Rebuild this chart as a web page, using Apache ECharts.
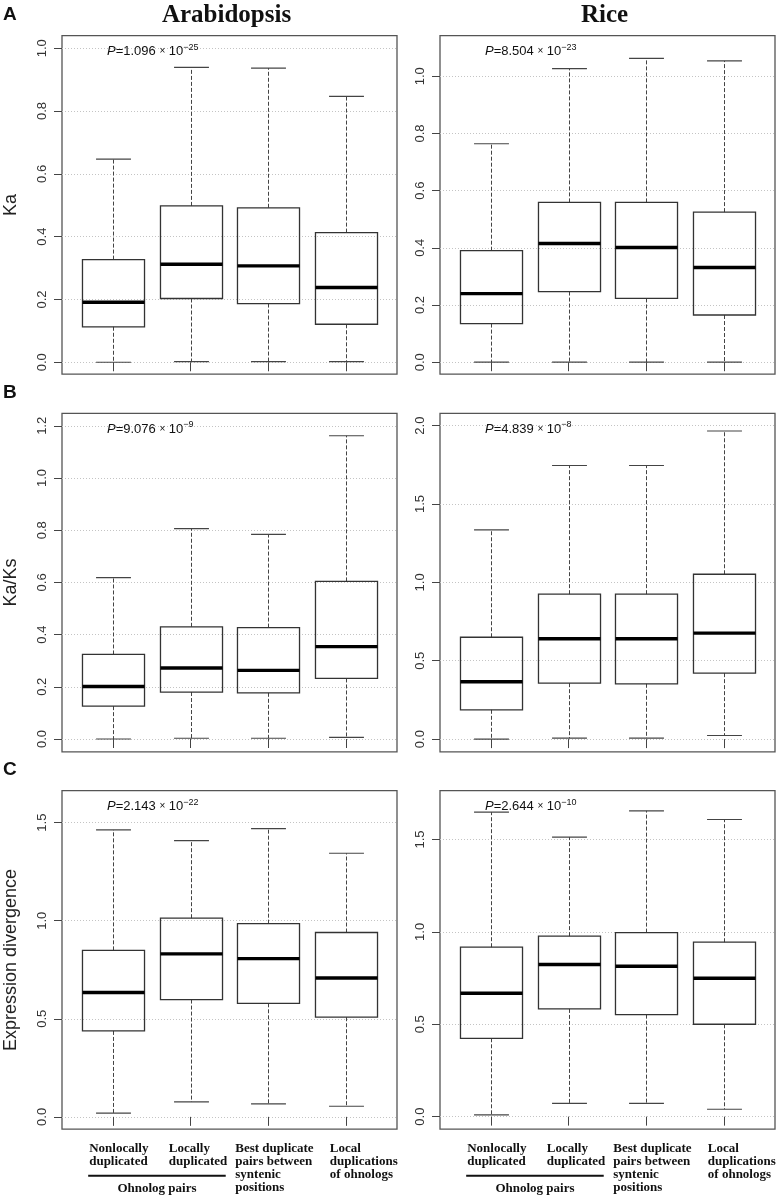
<!DOCTYPE html>
<html><head><meta charset="utf-8">
<script src="https://cdn.jsdelivr.net/npm/echarts@6/dist/echarts.min.js"></script>
<style>html,body{margin:0;padding:0;background:#fff}#chart{width:779px;height:1199px}</style>
</head><body><div id="chart"></div>
<script>
// ---------------- data ----------------
const categories = ['Nonlocally\nduplicated', 'Locally\nduplicated', 'Best duplicate\npairs between\nsyntenic\npositions', 'Local\nduplications\nof ohnologs'];
const groupLabel = 'Ohnolog pairs';
const speciesTitles = ['Arabidopsis', 'Rice'];
const panelLetters = ['A', 'B', 'C'];
const metricNames = ['Ka', 'Ka/Ks', 'Expression divergence'];
// each box: [lower whisker, Q1, median, Q3, upper whisker]
const kaArabidopsis   = [[0.000,0.113,0.191,0.327,0.647],[0.002,0.203,0.312,0.498,0.939],[0.002,0.187,0.307,0.492,0.937],[0.002,0.121,0.238,0.413,0.847]];
const kaRice          = [[0.000,0.135,0.240,0.390,0.764],[0.000,0.247,0.415,0.559,1.027],[0.000,0.223,0.401,0.559,1.063],[0.000,0.165,0.331,0.525,1.054]];
const kaksArabidopsis = [[0.000,0.126,0.201,0.324,0.618],[0.003,0.180,0.272,0.430,0.806],[0.003,0.177,0.263,0.427,0.784],[0.006,0.232,0.354,0.604,1.162]];
const kaksRice        = [[0.000,0.187,0.366,0.650,1.335],[0.006,0.357,0.640,0.925,1.746],[0.006,0.353,0.640,0.925,1.746],[0.023,0.421,0.676,1.052,1.966]];
const exprArabidopsis = [[0.019,0.438,0.634,0.849,1.463],[0.076,0.598,0.831,1.013,1.408],[0.066,0.579,0.807,0.985,1.470],[0.054,0.508,0.708,0.940,1.344]];
const exprRice        = [[0.009,0.424,0.668,0.917,1.648],[0.072,0.583,0.823,0.977,1.513],[0.072,0.552,0.814,0.996,1.655],[0.040,0.500,0.749,0.944,1.608]];
const pMantissa = ['1.096', '8.504', '9.076', '4.839', '2.143', '2.644'];
const pExponent = ['\u221225', '\u221223', '\u22129', '\u22128', '\u221222', '\u221210'];
const yTicksA = [0, 0.2, 0.4, 0.6, 0.8, 1.0];
const yTicksBL = [0, 0.2, 0.4, 0.6, 0.8, 1.0, 1.2];
const yTicksBR = [0, 0.5, 1.0, 1.5, 2.0];
const yTicksC = [0, 0.5, 1.0, 1.5];
const xTicks = [1, 2, 3, 4];

// ---------------- layout ----------------
const panelData = [kaArabidopsis, kaRice, kaksArabidopsis, kaksRice, exprArabidopsis, exprRice];
const panelTicks = [yTicksA, yTicksA, yTicksBL, yTicksBR, yTicksC, yTicksC];
const panelRange = [[-0.038, 1.040], [-0.042, 1.142], [-0.049, 1.248], [-0.081, 2.079], [-0.063, 1.663], [-0.068, 1.764]];
const colLeft = [62, 440], gridW = 335;
const rowTop = [35.7, 413.3, 790.7], gridH = 338.5;
const SANS = '"Liberation Sans", Arial, sans-serif';
const SERIF = '"Liberation Serif", "Times New Roman", serif';

const chart = echarts.init(document.getElementById('chart'), null, { renderer: 'canvas' });

const grids = [], xAxes = [], yAxes = [], series = [];
for (let i = 0; i < 6; i++) {
  const r = Math.floor(i / 2), c = i % 2;
  grids.push({ left: colLeft[c], top: rowTop[r], width: gridW, height: gridH, show: true,
    borderColor: '#555', borderWidth: 1.3, backgroundColor: 'transparent' });
  xAxes.push({ type: 'value', gridIndex: i, min: 0.34, max: 4.66,
    axisLine: { show: false }, splitLine: { show: false },
    axisTick: { show: true, inside: false, length: 9, customValues: xTicks, lineStyle: { color: '#444', width: 1 } },
    axisLabel: { show: false } });
  yAxes.push({ type: 'value', gridIndex: i, min: panelRange[i][0], max: panelRange[i][1],
    name: c === 0 ? metricNames[r] : '', nameLocation: 'middle', nameRotate: 90, nameGap: 42,
    nameTextStyle: { fontFamily: SANS, fontSize: 18, color: '#222' },
    axisLine: { show: false },
    axisTick: { show: true, inside: false, length: 8, customValues: panelTicks[i], lineStyle: { color: '#444', width: 1 } },
    axisLabel: { show: true, customValues: panelTicks[i], rotate: 90, margin: 13, fontFamily: SANS, fontSize: 13, color: '#333',
      formatter: v => Number(v).toFixed(1) },
    splitLine: { show: true, lineStyle: { color: '#c4c4c4', type: [1, 2], width: 1 } } });
  series.push({
    type: 'custom', xAxisIndex: i, yAxisIndex: i, clip: false,
    data: panelData[i].map((d, j) => [j + 1].concat(d)),
    encode: { x: 0, y: [1, 2, 3, 4, 5] },
    renderItem: function (params, api) {
      const x = api.value(0);
      const pLo = api.coord([x, api.value(1)]);
      const pQ1 = api.coord([x, api.value(2)]);
      const pMd = api.coord([x, api.value(3)]);
      const pQ3 = api.coord([x, api.value(4)]);
      const pHi = api.coord([x, api.value(5)]);
      const half = api.size([0.8, 0])[0] / 2;
      const cap = api.size([0.45, 0])[0] / 2;
      const cx = Math.round(pMd[0]) + 0.5;
      const dash = { stroke: '#444', lineWidth: 1, lineDash: [4, 2] };
      const solid = { stroke: '#444', lineWidth: 1.2 };
      return { type: 'group', children: [
        { type: 'line', shape: { x1: cx, y1: pQ3[1], x2: cx, y2: pHi[1] }, style: dash },
        { type: 'line', shape: { x1: cx, y1: pQ1[1], x2: cx, y2: pLo[1] }, style: dash },
        { type: 'line', shape: { x1: cx - cap, y1: pHi[1], x2: cx + cap, y2: pHi[1] }, style: solid },
        { type: 'line', shape: { x1: cx - cap, y1: pLo[1], x2: cx + cap, y2: pLo[1] }, style: solid },
        { type: 'rect', shape: { x: cx - half, y: pQ3[1], width: 2 * half, height: pQ1[1] - pQ3[1] },
          style: { fill: 'none', stroke: '#333', lineWidth: 1.3 } },
        { type: 'line', shape: { x1: cx - half, y1: pMd[1], x2: cx + half, y2: pMd[1] },
          style: { stroke: '#000', lineWidth: 3.4 } }
      ] };
    }
  });
}

chart.setOption({ animation: false, backgroundColor: '#fff', grid: grids, xAxis: xAxes, yAxis: yAxes, series: series });

// ---------------- annotations ----------------
const graphics = [];
function txt(text, x, y, font, align, valign, extra) {
  return { type: 'text', silent: true, style: Object.assign({ text: text, x: x, y: y, font: font,
    align: align, textAlign: align, verticalAlign: valign, textVerticalAlign: valign, fill: '#111' }, extra || {}) };
}
for (let c = 0; c < 2; c++) {
  graphics.push(txt(speciesTitles[c], colLeft[c] + gridW / 2 - 3, 16, 'bold 25px ' + SERIF, 'center', 'middle'));
}
for (let r = 0; r < 3; r++) {
  graphics.push(txt(panelLetters[r], 3, rowTop[r] - 21, 'bold 19px ' + SANS, 'left', 'middle'));
}
for (let i = 0; i < 6; i++) {
  const r = Math.floor(i / 2), c = i % 2;
  graphics.push({ type: 'text', silent: true, style: {
    text: '{i|P}=' + pMantissa[i] + ' {m|\u00d7} 10{s|' + pExponent[i] + '}',
    x: colLeft[c] + 45, y: rowTop[r] + 16, align: 'left', textAlign: 'left', verticalAlign: 'middle', textVerticalAlign: 'middle',
    font: '13px ' + SANS, fill: '#111',
    rich: {
      i: { fontStyle: 'italic', fontSize: 13, fontFamily: SANS, fill: '#111', lineHeight: 18 },
      m: { fontSize: 10, fontFamily: SANS, fill: '#111', lineHeight: 18 },
      s: { fontSize: 9, fontFamily: SANS, fill: '#111', verticalAlign: 'top', lineHeight: 8 }
    } } });
}
const labelOffsets = [-24, -22, -33, -16];
const bottom = rowTop[2] + gridH;
for (let c = 0; c < 2; c++) {
  const xi = 4 + c;
  const px = xTicks.map(v => chart.convertToPixel({ xAxisIndex: xi }, v));
  categories.forEach((cat, j) => {
    graphics.push(txt(cat, px[j] + labelOffsets[j], bottom + 13, 'bold 13px ' + SERIF, 'left', 'top', { lineHeight: 13 }));
  });
  const x1 = px[0] - 25, x2 = px[1] + 35;
  graphics.push({ type: 'line', silent: true, shape: { x1: x1, y1: bottom + 46.5, x2: x2, y2: bottom + 46.5 },
    style: { stroke: '#111', lineWidth: 2 } });
  graphics.push(txt(groupLabel, (x1 + x2) / 2, bottom + 59, 'bold 13px ' + SERIF, 'center', 'middle'));
}
chart.setOption({ graphic: { elements: graphics } });
</script>
</body></html>
